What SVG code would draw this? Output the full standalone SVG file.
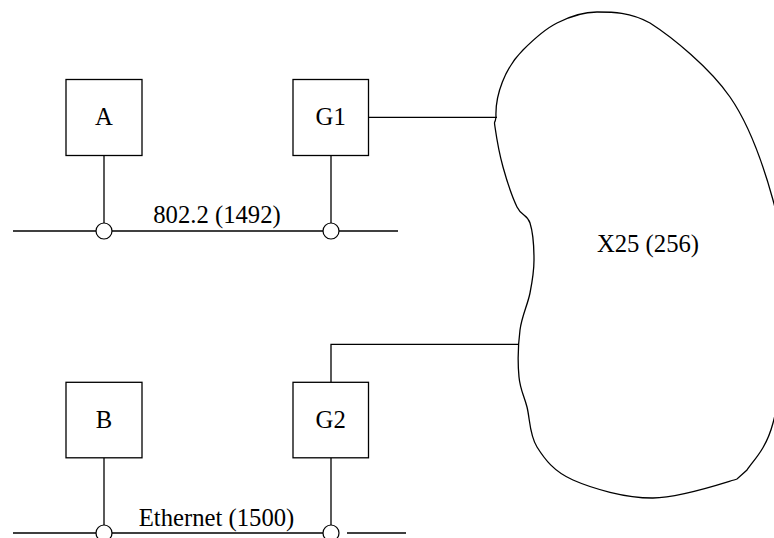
<svg xmlns="http://www.w3.org/2000/svg" width="774" height="538" viewBox="0 0 774 538">
<style>
.box{fill:#fff;stroke:#000;stroke-width:1.3}
.ln{fill:none;stroke:#000;stroke-width:1.3}
.tap{fill:#fff;stroke:#000;stroke-width:1.2}
.t{font-family:"Liberation Serif","Times New Roman",serif;font-size:24.7px;fill:#000}
.m{text-anchor:middle}
</style>
<rect width="774" height="538" fill="#fff"/>
<g id="connectors">
<path class="ln" d="M13,231 H398"/>
<path class="ln" d="M104,155 V223"/>
<path class="ln" d="M331,155 V223"/>
<path class="ln" d="M368,117.3 H497"/>
<path class="ln" d="M13,533 H323 M347,533 H406"/>
<path class="ln" d="M104,458 V525"/>
<path class="ln" d="M331,458 V525"/>
<path class="ln" d="M331,382 V344.3 H519"/>
<circle class="tap" cx="104" cy="231" r="8"/>
<circle class="tap" cx="331" cy="231" r="8"/>
<circle class="tap" cx="104" cy="533" r="8"/>
<circle class="tap" cx="331" cy="533" r="8"/>
</g>
<g id="X25">
<path class="ln" d="M496,117 C495,95 505,68 523,50 C532,41 545,29 557,23 C569.3,16.7 581.5,12 597,12 C612.5,12 630,12 650,23 C672.2,37.2 709.5,67.5 730,97 C750.5,126.5 763.2,164.5 773,200 C782.8,235.5 789,272.8 789,310 C789,347.2 780,396.3 773,423 C766,449.7 753,460.7 747,470 L737,479 C721.3,483.7 680.3,497.8 653,498 C625.7,498.2 592.3,488.5 573,480 C553.7,471.5 544.7,459.2 537,447 C529.3,434.8 530,418.7 527,407 C524,395.3 520.2,389.8 519,377 C517.8,364.2 518.2,344 520,330 C521.8,316 527.7,304.7 530,293 C532.3,281.3 534,271.7 534,260 C534,248.3 532.8,231.8 530,223 C527.2,214.2 521.5,216.3 517,207 C512.5,197.7 506.7,180.3 503,167 C499.3,153.7 496.2,135.3 495,127 C493.8,118.7 494.7,126.2 496,117 Z"/>
<text class="t m" x="648" y="252">X25 (256)</text>
</g>
<g id="A">
<rect class="box" x="66" y="79.5" width="76" height="76"/>
<text class="t m" x="104" y="125">A</text>
</g>
<g id="G1">
<rect class="box" x="293" y="79.5" width="75.5" height="76"/>
<text class="t m" x="330.7" y="125">G1</text>
</g>
<g id="B">
<rect class="box" x="66" y="382.3" width="76" height="75.5"/>
<text class="t m" x="104" y="428.3">B</text>
</g>
<g id="G2">
<rect class="box" x="293" y="382.3" width="75.5" height="75.5"/>
<text class="t m" x="330.7" y="428.3">G2</text>
</g>
<g id="labels">
<text class="t m" x="217" y="223">802.2 (1492)</text>
<text class="t m" x="216.5" y="526">Ethernet (1500)</text>
</g>
</svg>
